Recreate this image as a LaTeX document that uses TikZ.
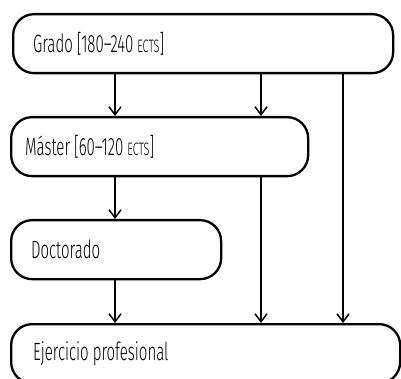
\documentclass[tikz,border=0pt]{standalone}
\usepackage{fontspec}
\setmainfont[FakeStretch=0.6]{Fira Sans Light}
\usetikzlibrary{arrows.meta}
\newcommand{\boxfont}{\fontsize{25}{29}\selectfont}
\newcommand{\wgap}{\hspace{4pt}}
\tikzset{
  box/.style={draw, line width=2.3pt, rounded corners=21pt, align=left, anchor=north west,
    inner ysep=0pt, minimum height=59pt, font=\boxfont},
  arr/.style={line width=1.3pt, -{Straight Barb[length=8pt,width=12pt,line width=1.5pt]}},
}
\newcommand{\ects}{{\fontsize{18}{20}\selectfont ECTS}}
\begin{document}
\begin{tikzpicture}[x=1pt,y=-1pt]
\useasboundingbox (0,0) rectangle (401,379);
\clip (0,0) rectangle (401,379);
\node[box, inner xsep=20pt, text width=340pt] (grado) at (12,13) {Grado\wgap[180–240\wgap\ects]};
\node[box, inner xsep=14pt, text width=269pt] (master) at (10,116) {Máster\wgap[60–120\wgap\ects]};
\node[box, inner xsep=20pt, text width=170pt] (doct) at (10,219) {Doctorado};
\node[box, inner xsep=22pt, text width=345pt] (ejer) at (10,323) {Ejercicio\wgap profesional};
\draw[arr] (115,0 |- grado.south) -- (115,0 |- master.north);
\draw[arr] (261,0 |- grado.south) -- (261,0 |- master.north);
\draw[arr] (343,0 |- grado.south) -- (343,0 |- ejer.north);
\draw[arr] (115,0 |- master.south) -- (115,0 |- doct.north);
\draw[arr] (261,0 |- master.south) -- (261,0 |- ejer.north);
\draw[arr] (115,0 |- doct.south) -- (115,0 |- ejer.north);
\end{tikzpicture}
\end{document}
